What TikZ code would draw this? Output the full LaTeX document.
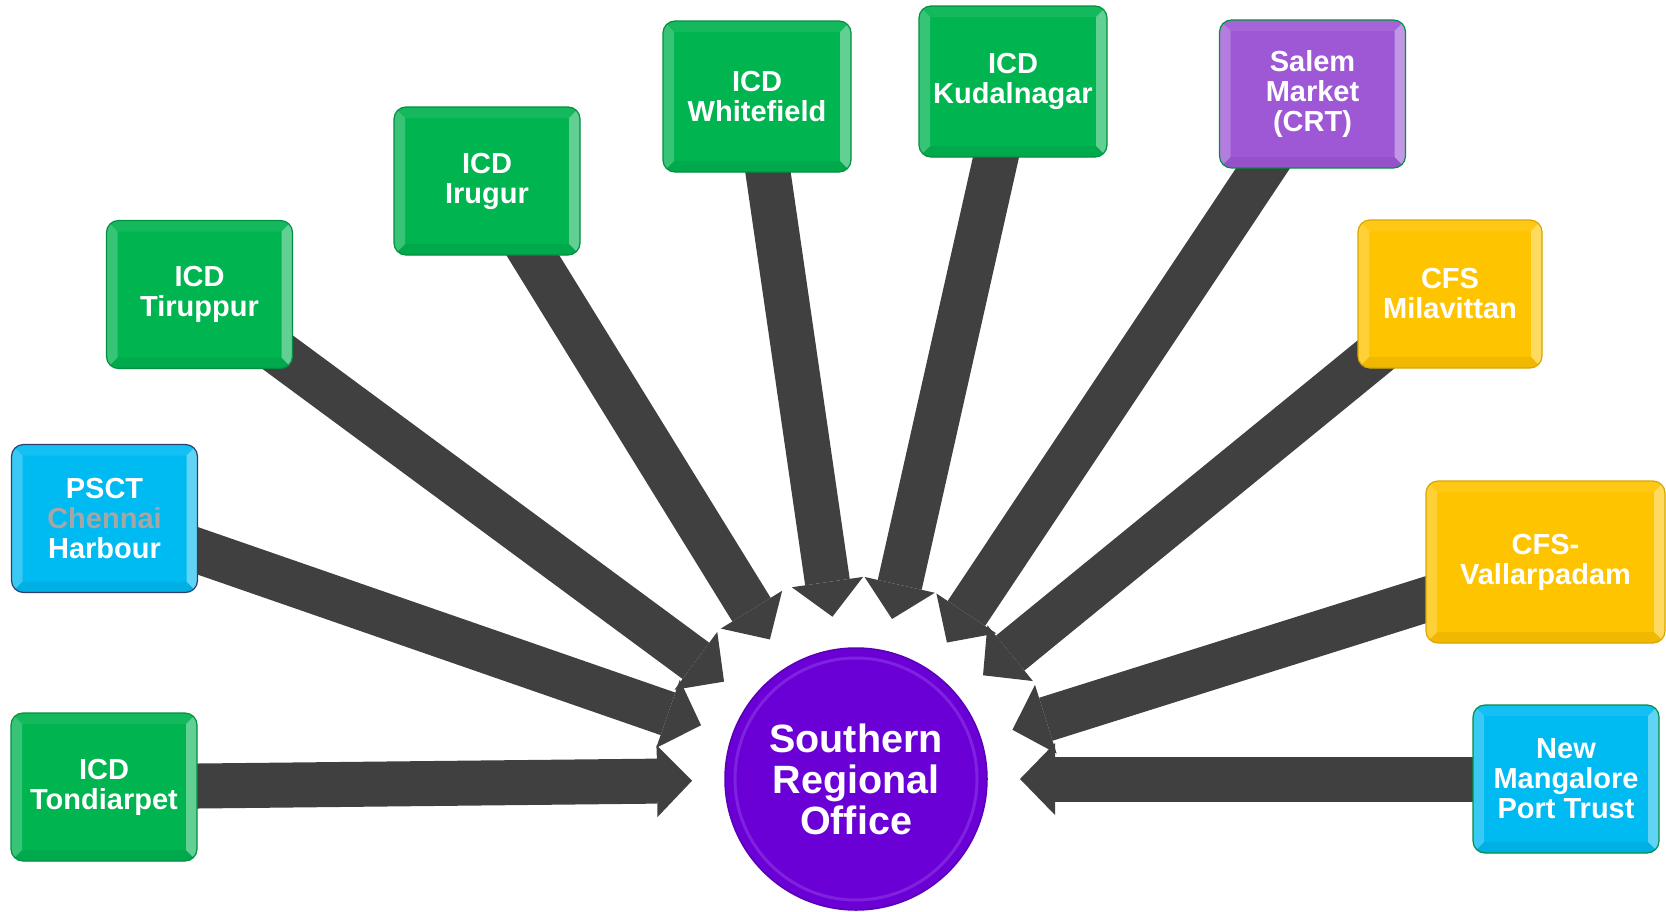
\documentclass[tikz,border=0pt]{standalone}
\usepackage{fontspec}
\setmainfont{Liberation Sans}
\usetikzlibrary{arrows.meta}
\usetikzlibrary{calc}
\usetikzlibrary{backgrounds}
\definecolor{boxgreen}{RGB}{0,180,80}
\definecolor{boxblue}{RGB}{0,186,242}
\definecolor{boxgold}{RGB}{255,196,0}
\definecolor{boxviolet}{RGB}{158,88,214}
\definecolor{psctedge}{RGB}{47,63,111}
\definecolor{chennaigray}{RGB}{166,166,166}
\definecolor{srmpurple}{RGB}{106,0,214}
\definecolor{srmring}{RGB}{176,110,245}
\definecolor{arrowgray}{RGB}{64,64,64}

\begin{document}
\begin{tikzpicture}[x=1pt,y=-1pt,line join=round,
    station/.style={rounded corners=12pt,minimum width=186pt,minimum height=148pt,inner sep=0pt,
      align=center,text=white,line width=1.2pt,font=\fontsize{29}{30}\selectfont\bfseries,
      path picture={
        \fill[sharp corners,white,opacity=.22] (path picture bounding box.north west) -- ([shift={(11pt,-11pt)}]path picture bounding box.north west)
          -- ([shift={(11pt,11pt)}]path picture bounding box.south west) -- (path picture bounding box.south west) -- cycle;
        \fill[sharp corners,white,opacity=.38] (path picture bounding box.north east) -- ([shift={(-11pt,-11pt)}]path picture bounding box.north east)
          -- ([shift={(-11pt,11pt)}]path picture bounding box.south east) -- (path picture bounding box.south east) -- cycle;
        \fill[sharp corners,white,opacity=.08] (path picture bounding box.north west) -- ([shift={(11pt,-11pt)}]path picture bounding box.north west)
          -- ([shift={(-11pt,-11pt)}]path picture bounding box.north east) -- (path picture bounding box.north east) -- cycle;
        \fill[sharp corners,black,opacity=.06] (path picture bounding box.south west) -- ([shift={(11pt,11pt)}]path picture bounding box.south west)
          -- ([shift={(-11pt,11pt)}]path picture bounding box.south east) -- (path picture bounding box.south east) -- cycle;
      }},
    greenbox/.style={station,fill=boxgreen,draw=boxgreen!80!black},
    bluebox/.style={station,fill=boxblue,draw=boxblue!80!black},
    goldbox/.style={station,fill=boxgold,draw=boxgold!85!black},
    violetbox/.style={station,fill=boxviolet,draw=boxgreen!80!black},
    hub/.style={circle,minimum size=262pt,inner sep=0pt,fill=srmpurple,draw=srmpurple!85!black,line width=1.5pt,
      align=center,text=white,font=\fontsize{39.5}{41}\selectfont\bfseries,
      path picture={\draw[srmring,line width=3pt,opacity=.3] (path picture bounding box.center) circle (121pt);}},
    feeder/.style={draw=arrowgray,line width=45pt,-{Triangle[length=35pt,width=72pt,line width=0pt]}}]
  \useasboundingbox (0,0) rectangle (1666,911);

  \node[greenbox] (tond) at (104,787) {ICD\\Tondiarpet};
  \node[bluebox,draw=psctedge] (psct) at (104.5,518.5) {PSCT\\\textcolor{chennaigray}{Chennai}\\Harbour};
  \node[greenbox] (tirup) at (199.5,294.5) {ICD\\Tiruppur};
  \node[greenbox] (irug) at (487,181) {ICD\\Irugur};
  \node[greenbox,minimum width=188pt,minimum height=151pt] (white) at (757,96.5) {ICD\\Whitefield};
  \node[greenbox,minimum width=188pt,minimum height=151pt] (kudal) at (1013,81.5) {ICD\\Kudalnagar};
  \node[violetbox] (salem) at (1312.5,94) {Salem\\Market\\(CRT)};
  \node[goldbox,minimum width=184pt] (milav) at (1450,294) {CFS\\Milavittan};
  \node[goldbox,minimum width=239pt,minimum height=162pt] (vallar) at (1545.5,562) {CFS-\\Vallarpadam};
  \node[bluebox,draw=boxgreen!80!black] (nmpt) at (1566,779) {New\\Mangalore\\Port Trust};
  \node[hub] (srm) at (856,779) {Southern\\Regional\\Office};

  \begin{scope}[on background layer]
    \fill[white] (0,0) rectangle (1666,911);
    \foreach \b in {tond,psct,tirup,irug,white,kudal,salem,milav,vallar,nmpt}
      \draw[feeder] (\b.center) -- ($(srm.center)!164pt!(\b.center)$);
  \end{scope}
\end{tikzpicture}
\end{document}
